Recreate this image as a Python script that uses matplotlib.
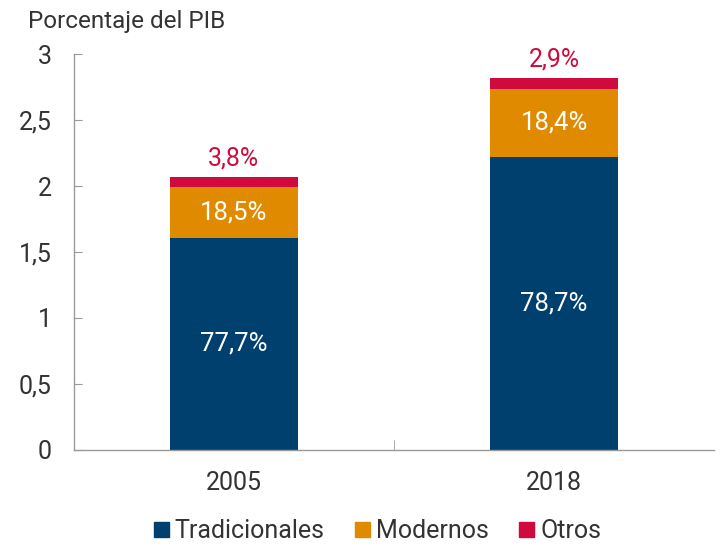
import matplotlib.pyplot as plt
from matplotlib.patches import Patch

plt.rcParams['font.family'] = ['Roboto', 'DejaVu Sans']

# Data
years = ['2005', '2018']
tradicionales = [1.608, 2.219]
modernos = [0.383, 0.519]
otros = [0.079, 0.082]
pct_trad = ['77,7%', '78,7%']
pct_mod = ['18,5%', '18,4%']
pct_otros = ['3,8%', '2,9%']

c_trad = '#00406e'
c_mod = '#e08a00'
c_otros = '#cf0a3c'

fig = plt.figure(figsize=(7.23, 5.46), dpi=100)
ax = fig.add_axes([0.102, 0.176, 0.886, 0.725])

x = range(len(years))
w = 0.4
ax.bar(x, tradicionales, w, color=c_trad)
ax.bar(x, modernos, w, bottom=tradicionales, color=c_mod)
bot2 = [t + m for t, m in zip(tradicionales, modernos)]
ax.bar(x, otros, w, bottom=bot2, color=c_otros)

for i in x:
    ax.text(i, tradicionales[i] / 2, pct_trad[i], ha='center', va='center',
            color='white', fontsize=18.5)
    ax.text(i, tradicionales[i] + modernos[i] / 2, pct_mod[i], ha='center',
            va='center', color='white', fontsize=18.5)
    ax.text(i, bot2[i] + otros[i] + 0.05, pct_otros[i], ha='center',
            va='bottom', color=c_otros, fontsize=18)

ax.set_xlim(-0.5, 1.5)
ax.set_ylim(0, 3)
ax.set_yticks([0, 0.5, 1, 1.5, 2, 2.5, 3])
ax.set_yticklabels(['0', '0,5', '1', '1,5', '2', '2,5', '3'])
ax.set_xticks(list(x))
ax.set_xticklabels(years)
ax.set_xticks([0.5], minor=True)
ax.tick_params(axis='x', which='major', length=0, pad=15, labelsize=18, labelcolor='#333333')
ax.tick_params(axis='x', which='minor', direction='in', length=7, color='#999999')
ax.tick_params(axis='y', direction='in', length=6, color='#999999', pad=16,
               labelsize=18, labelcolor='#333333')

for s in ['top', 'right']:
    ax.spines[s].set_visible(False)
for s in ['left', 'bottom']:
    ax.spines[s].set_color('#999999')
    ax.spines[s].set_linewidth(1)

fig.text(0.039, 0.96, 'Porcentaje del PIB', fontsize=17.5, color='#333333',
         ha='left', va='center')

handles = [Patch(color=c_trad, label='Tradicionales'),
           Patch(color=c_mod, label='Modernos'),
           Patch(color=c_otros, label='Otros')]
fig.legend(handles=handles, loc='center', bbox_to_anchor=(0.522, 0.027), ncol=3,
           frameon=False, fontsize=18, handlelength=0.6, handleheight=0.6,
           handletextpad=0.25, columnspacing=1.2, labelcolor='#333333')

fig.savefig('out.png', dpi=100)
